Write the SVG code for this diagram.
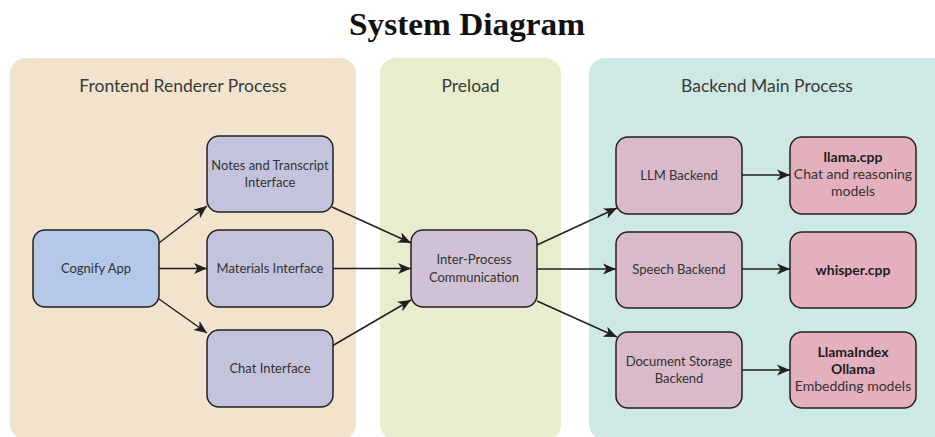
<svg xmlns="http://www.w3.org/2000/svg" width="935" height="437" viewBox="0 0 935 437">
<defs>
<style>
.panel-title{font-family:Lato,"Open Sans","Liberation Sans",sans-serif;font-size:17.5px;fill:#3a3a3a;text-anchor:middle}
.node rect{stroke:#231f20;stroke-width:1.5}
.lbl{font-family:Lato,"Open Sans","Liberation Sans",sans-serif;font-size:13px;fill:#333;text-anchor:middle}
.elbl{font-family:Lato,"Open Sans","Liberation Sans",sans-serif;font-size:14px;fill:#333;text-anchor:middle}
.bold{font-weight:bold;fill:#1d1d1d}
.conn line{stroke:#231f20;stroke-width:1.5;fill:none;marker-end:url(#arrow)}
</style>
<marker id="arrow" markerUnits="userSpaceOnUse" markerWidth="14" markerHeight="12" refX="13" refY="6" orient="auto">
<path d="M0,0.5 L13,6 L0,11.5 L3.5,6 Z" fill="#231f20"/>
</marker>
</defs>
<rect width="935" height="437" fill="#ffffff"/>
<text x="467" y="35" font-family="'Liberation Serif','DejaVu Serif',serif" font-size="32" font-weight="bold" text-anchor="middle" fill="#111" textLength="236" lengthAdjust="spacingAndGlyphs">System Diagram</text>

<g id="panel-frontend">
<rect x="10" y="58" width="346" height="382" rx="16" fill="#f2e4cc"/>
<text class="panel-title" x="183" y="92">Frontend Renderer Process</text>
</g>
<g id="panel-preload">
<rect x="380" y="58" width="181" height="382" rx="16" fill="#e7edcd"/>
<text class="panel-title" x="470.5" y="92">Preload</text>
</g>
<g id="panel-backend">
<rect x="589" y="58" width="370" height="382" rx="16" fill="#cee9e4"/>
<text class="panel-title" x="767" y="92">Backend Main Process</text>
</g>

<g id="connectors" class="conn">
<line x1="159" y1="243" x2="207" y2="206"/>
<line x1="159" y1="268.5" x2="207" y2="268.5"/>
<line x1="159" y1="299" x2="207" y2="333"/>
<line x1="332" y1="207" x2="411" y2="243"/>
<line x1="333" y1="268.5" x2="411" y2="268.5"/>
<line x1="332" y1="346" x2="411" y2="300"/>
<line x1="537" y1="245" x2="617" y2="208"/>
<line x1="537" y1="269" x2="616" y2="269"/>
<line x1="537" y1="301" x2="617" y2="337"/>
<line x1="742" y1="175" x2="790" y2="175"/>
<line x1="742" y1="269" x2="790" y2="269"/>
<line x1="742" y1="370" x2="790" y2="370"/>
</g>

<g id="cognify-app" class="node">
<rect x="33" y="230" width="126" height="77" rx="12" fill="#b4c8e8"/>
<text class="lbl" x="96" y="273">Cognify App</text>
</g>
<g id="notes-interface" class="node">
<rect x="207" y="136" width="126" height="76" rx="12" fill="#c4c3dd"/>
<text class="lbl" x="270" y="170">Notes and Transcript</text>
<text class="lbl" x="270" y="187">Interface</text>
</g>
<g id="materials-interface" class="node">
<rect x="207" y="230" width="126" height="77" rx="12" fill="#c4c3dd"/>
<text class="lbl" x="270" y="273">Materials Interface</text>
</g>
<g id="chat-interface" class="node">
<rect x="207" y="330" width="126" height="77" rx="12" fill="#c4c3dd"/>
<text class="lbl" x="270" y="373">Chat Interface</text>
</g>
<g id="ipc" class="node">
<rect x="411" y="230" width="126" height="77" rx="12" fill="#d0c1d4"/>
<text class="lbl" x="474" y="264">Inter-Process</text>
<text class="lbl" x="474" y="282">Communication</text>
</g>
<g id="llm-backend" class="node">
<rect x="616" y="137" width="126" height="77" rx="12" fill="#d9b9ca"/>
<text class="lbl" x="679" y="180">LLM Backend</text>
</g>
<g id="llama-cpp" class="node">
<rect x="790" y="137" width="126" height="77" rx="12" fill="#e4b0be"/>
<text class="elbl bold" x="853" y="162">llama.cpp</text>
<text class="elbl" x="853" y="179">Chat and reasoning</text>
<text class="elbl" x="853" y="196">models</text>
</g>
<g id="speech-backend" class="node">
<rect x="616" y="232" width="126" height="76" rx="12" fill="#d9b9ca"/>
<text class="lbl" x="679" y="274">Speech Backend</text>
</g>
<g id="whisper-cpp" class="node">
<rect x="790" y="232" width="126" height="76" rx="12" fill="#e4b0be"/>
<text class="elbl bold" x="853" y="275">whisper.cpp</text>
</g>
<g id="document-storage-backend" class="node">
<rect x="616" y="332" width="126" height="76" rx="12" fill="#d9b9ca"/>
<text class="lbl" x="679" y="366">Document Storage</text>
<text class="lbl" x="679" y="383">Backend</text>
</g>
<g id="llamaindex-ollama" class="node">
<rect x="790" y="332" width="126" height="76" rx="12" fill="#e4b0be"/>
<text class="elbl bold" x="853" y="357">LlamaIndex</text>
<text class="elbl bold" x="853" y="374">Ollama</text>
<text class="elbl" x="853" y="391">Embedding models</text>
</g>
</svg>
